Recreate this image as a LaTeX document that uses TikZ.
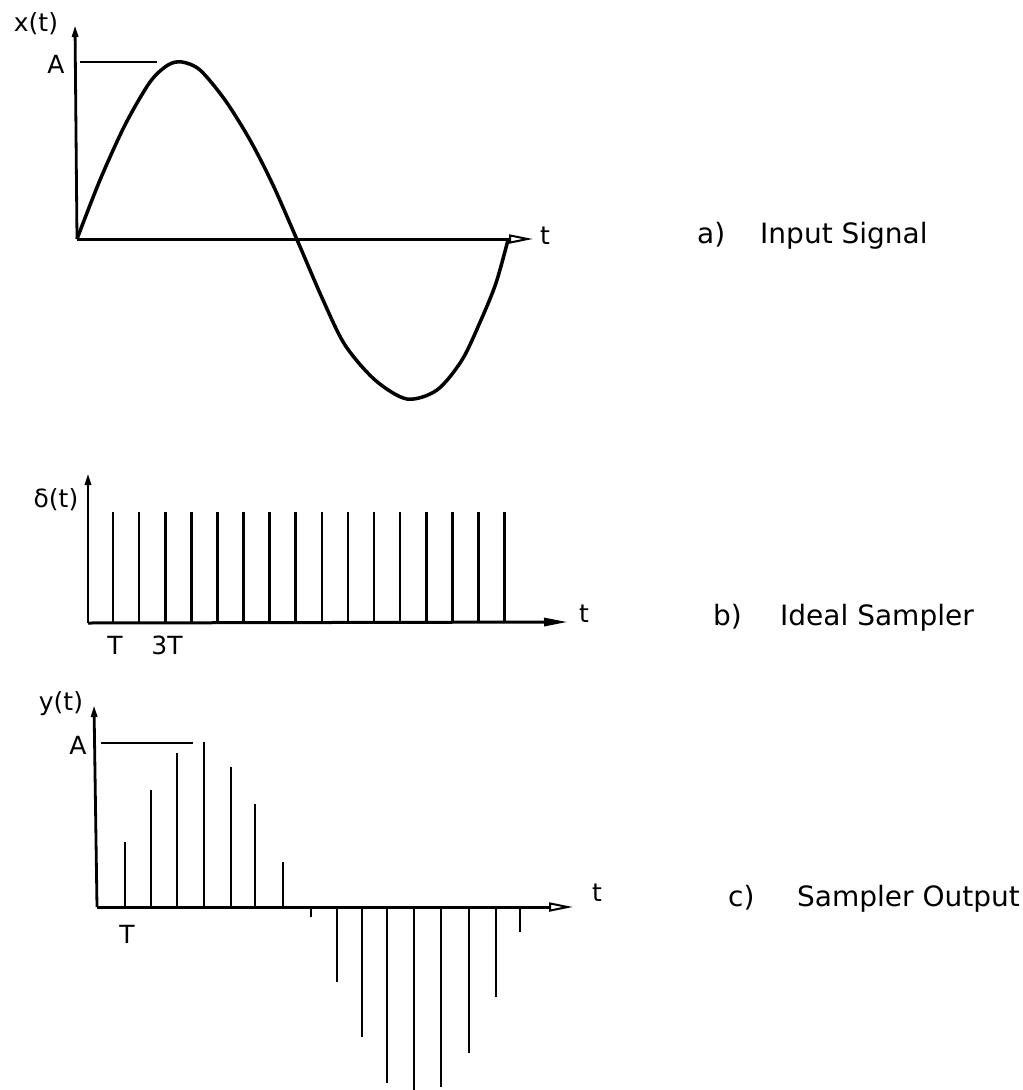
\documentclass[tikz,border=0pt]{standalone}
\usepackage{fontspec}
\setmainfont{DejaVu Sans}
\usetikzlibrary{arrows.meta}

\begin{document}
\begin{tikzpicture}[x=1pt,y=-1pt,
  taxis/.style={line width=3pt,-{Triangle[open,length=24pt,width=9pt,line width=2pt]}},
  tfill/.style={line width=3pt,-{Triangle[length=24pt,width=8pt]}},
  yaxis/.style={line width=2.8pt,-{Triangle[length=12pt,width=6pt]}},
  pulse/.style={line width=2.6pt},
  lbl/.style={font=\fontsize{25}{25}\selectfont,inner sep=0pt},
  capt/.style={font=\fontsize{28}{28}\selectfont,anchor=base west,inner sep=0pt}]
\useasboundingbox (0,0) rectangle (1023,1090);

\coordinate (oa) at (77,239);
\coordinate (ya) at (75,25);
\coordinate (ta) at (533,239);
\coordinate (A1) at (80,62);
\coordinate (A2) at (157,62);

\draw[yaxis] (oa) -- (ya);
\draw[taxis] (oa) -- (ta);
\draw[line width=2.5pt] (A1) -- (A2);
\draw[line width=3.5pt] plot[smooth] coordinates {(77,239) (100,180) (125,125) (150,82) (168,65) (182,62) (200,70) (225,100) (250,140) (273,185) (298,242) (323,300) (345,345) (375,380) (407,399) (437,390) (462,360) (481,320) (496,283) (508,240)};

\node[lbl] (xt) at (36,24) {x(t)};
\node[lbl] (Aa) at (56,64) {A};
\node[lbl] (ta lbl) at (545,236) {t};
\node[capt] (capa) at (697,243) {a)};
\node[capt] (texta) at (760,243) {Input Signal};

\coordinate (ob) at (88,623);
\coordinate (yb) at (88,473);
\coordinate (tb) at (568,622);

\draw[yaxis] (ob) -- (yb);
\draw[tfill] (ob) -- (tb);
\foreach \k in {0,...,15}
  \draw[pulse] (113+26.1*\k,623) -- (113+26.1*\k,512);

\node[lbl] (dt) at (56,500) {δ(t)};
\node[lbl] (T1) at (115,645) {T};
\node[lbl] (T3) at (167,645) {3T};
\node[lbl] (tb lbl) at (584,614) {t};
\node[capt] (capb) at (713,625) {b)};
\node[capt] (textb) at (780,625) {Ideal Sampler};

\coordinate (oc) at (97,907);
\coordinate (yc) at (94,705);
\coordinate (tc) at (573,907);
\coordinate (B1) at (101,743);
\coordinate (B2) at (193,743);

\draw[yaxis] (oc) -- (yc);
\draw[taxis] (oc) -- (tc);
\draw[line width=2.5pt] (B1) -- (B2);
\foreach \x/\h in {125/65,151/117,177/154,204/165,231/140,255/103,283/45,311/-10,337/-75,362/-130,387/-176,414/-183,441/-180,469/-146,496/-90,520/-25}
  \draw[pulse] (\x,907) -- (\x,907-\h);

\node[lbl] (yt) at (61,704) {y(t)};
\node[lbl] (Ac) at (78,745) {A};
\node[lbl] (Tc) at (127,934) {T};
\node[lbl] (tc lbl) at (597,893) {t};
\node[capt] (capc) at (728,906) {c)};
\node[capt] (textc) at (797,906) {Sampler Output};
\end{tikzpicture}
\end{document}
